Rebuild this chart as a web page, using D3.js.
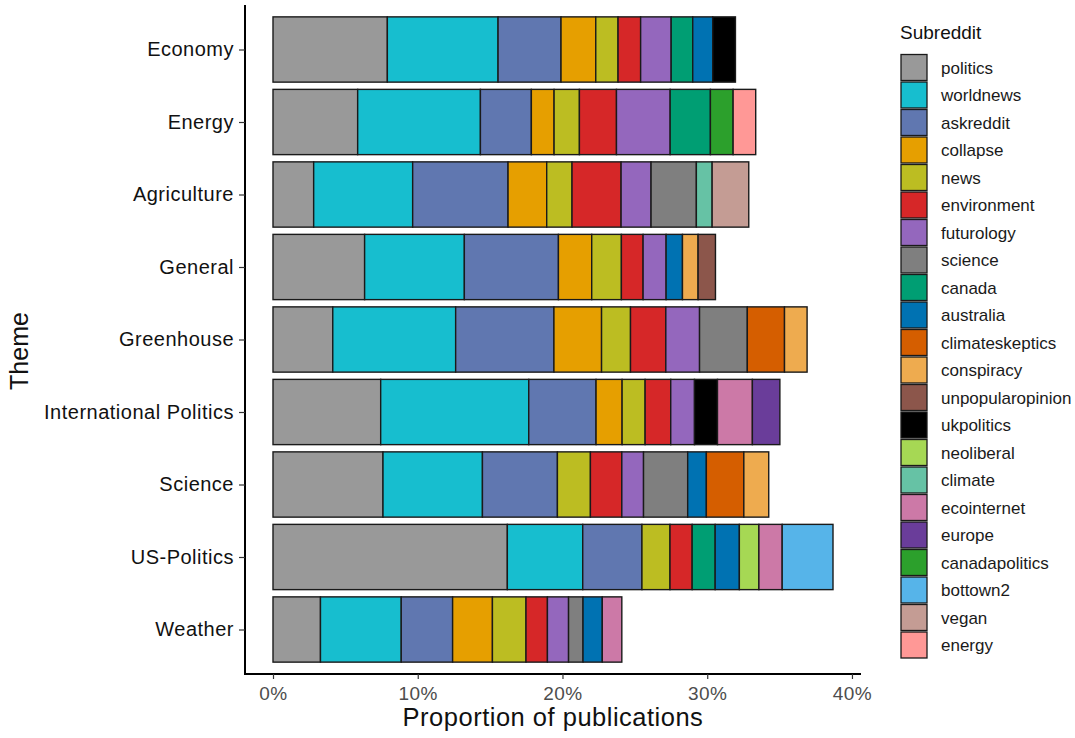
<!DOCTYPE html>
<html>
<head>
<meta charset="utf-8">
<script src="https://cdn.jsdelivr.net/npm/d3@7"></script>
<style>
  body { margin: 0; background: #fff; }
  text { font-family: "Liberation Sans", Arial, Helvetica, sans-serif; }
</style>
</head>
<body>
<svg id="chart" width="1075" height="738"></svg>
<script>
const themes = ["Economy", "Energy", "Agriculture", "General", "Greenhouse",
  "International Politics", "Science", "US-Politics", "Weather"];

const subreddits = ["politics", "worldnews", "askreddit", "collapse", "news", "environment",
  "futurology", "science", "canada", "australia", "climateskeptics", "conspiracy",
  "unpopularopinion", "ukpolitics", "neoliberal", "climate", "ecointernet", "europe",
  "canadapolitics", "bottown2", "vegan", "energy"];

const subColors = ["#999999", "#17BECF", "#6077B0", "#E69F00", "#BCBD22", "#D62728",
  "#9467BD", "#7F7F7F", "#009E73", "#0072B2", "#D55E00", "#EEAB4F",
  "#8C564B", "#000000", "#A6D854", "#66C2A5", "#CC79A7", "#6A3D9A",
  "#2CA02C", "#56B4E9", "#C49C94", "#FF9896"];

const xTicks = [0, 10, 20, 30, 40];

// proportion of publications (%) per theme, by subreddit
const economy = [["politics", 7.90], ["worldnews", 7.65], ["askreddit", 4.35], ["collapse", 2.40],
  ["news", 1.54], ["environment", 1.56], ["futurology", 2.11], ["canada", 1.49],
  ["australia", 1.38], ["ukpolitics", 1.57]];
const energy = [["politics", 5.85], ["worldnews", 8.48], ["askreddit", 3.52], ["collapse", 1.57],
  ["news", 1.75], ["environment", 2.56], ["futurology", 3.71], ["canada", 2.78],
  ["canadapolitics", 1.57], ["energy", 1.56]];
const agriculture = [["politics", 2.81], ["worldnews", 6.84], ["askreddit", 6.59], ["collapse", 2.67],
  ["news", 1.75], ["environment", 3.39], ["futurology", 2.07], ["science", 3.13],
  ["climate", 1.09], ["vegan", 2.53]];
const general = [["politics", 6.33], ["worldnews", 6.89], ["askreddit", 6.50], ["collapse", 2.30],
  ["news", 2.05], ["environment", 1.50], ["futurology", 1.59], ["australia", 1.13],
  ["conspiracy", 1.08], ["unpopularopinion", 1.20]];
const greenhouse = [["politics", 4.13], ["worldnews", 8.49], ["askreddit", 6.79], ["collapse", 3.29],
  ["news", 2.00], ["environment", 2.44], ["futurology", 2.33], ["science", 3.30],
  ["climateskeptics", 2.57], ["conspiracy", 1.56]];
const internationalPolitics = [["politics", 7.44], ["worldnews", 10.23], ["askreddit", 4.65],
  ["collapse", 1.80], ["news", 1.59], ["environment", 1.77], ["futurology", 1.64],
  ["ukpolitics", 1.59], ["ecointernet", 2.41], ["europe", 1.90]];
const science = [["politics", 7.60], ["worldnews", 6.87], ["askreddit", 5.18], ["news", 2.28],
  ["environment", 2.17], ["futurology", 1.50], ["science", 3.05], ["australia", 1.29],
  ["climateskeptics", 2.59], ["conspiracy", 1.72]];
const usPolitics = [["politics", 16.19], ["worldnews", 5.21], ["askreddit", 4.09], ["news", 1.94],
  ["environment", 1.53], ["canada", 1.59], ["australia", 1.67], ["neoliberal", 1.35],
  ["ecointernet", 1.61], ["bottown2", 3.51]];
const weather = [["politics", 3.28], ["worldnews", 5.58], ["askreddit", 3.55], ["collapse", 2.75],
  ["news", 2.32], ["environment", 1.48], ["futurology", 1.46], ["science", 1.00],
  ["australia", 1.33], ["ecointernet", 1.35]];

const themeData = [economy, energy, agriculture, general, greenhouse,
  internationalPolitics, science, usPolitics, weather];

// ---- build stacked segments ----
const segments = [];
const totals = [];
themes.forEach((t, i) => {
  const rows = themeData[i].slice().sort((a, b) => subreddits.indexOf(a[0]) - subreddits.indexOf(b[0]));
  let acc = 0;
  rows.forEach(([sub, v]) => {
    segments.push({ theme: t, sub, x0: acc, x1: acc + v });
    acc += v;
  });
  totals.push(acc);
});
const maxTotal = d3.max(totals);

const svg = d3.select("#chart");
const panel = { left: 245, right: 861, top: 6, bottom: 673 };

const pad = maxTotal * 0.05;
const x = d3.scaleLinear().domain([-pad, maxTotal + pad]).range([panel.left, panel.right]);

// discrete y with ggplot-like expansion (0.6 units each side), bar width 0.9
const nT = themes.length;
const step = (panel.bottom - panel.top) / (nT - 1 + 1.2);
const yCenter = d3.scalePoint().domain(themes)
  .range([panel.top + 0.6 * step, panel.bottom - 0.6 * step]);
const barH = 0.9 * step;

const color = d3.scaleOrdinal().domain(subreddits).range(subColors);

// bars
svg.append("g").selectAll("rect").data(segments).join("rect")
  .attr("x", d => x(d.x0))
  .attr("width", d => x(d.x1) - x(d.x0))
  .attr("y", d => yCenter(d.theme) - barH / 2)
  .attr("height", barH)
  .attr("fill", d => color(d.sub))
  .attr("stroke", "#1a1a1a")
  .attr("stroke-width", 1.4);

const axisY = panel.bottom + 1;

// x axis
const xAxis = d3.axisBottom(x).tickValues(xTicks).tickFormat(d => d + "%").tickSize(5).tickSizeOuter(0);
const gx = svg.append("g").attr("transform", `translate(0,${axisY})`).call(xAxis);
gx.select(".domain").attr("d", `M${panel.left - 1},0H${panel.right}`).attr("stroke", "#000").attr("stroke-width", 2);
gx.selectAll(".tick line").attr("stroke", "#333").attr("stroke-width", 1.2);
gx.selectAll(".tick text").attr("fill", "#4D4D4D").attr("font-size", 19).attr("y", 13)
  .attr("letter-spacing", "0.5px")
  .attr("font-family", "Liberation Sans, Arial, sans-serif");

// y axis
const yAxis = d3.axisLeft(yCenter).tickSize(6).tickSizeOuter(0).tickPadding(5);
const gy = svg.append("g").attr("transform", `translate(${panel.left},0)`).call(yAxis);
gy.select(".domain").attr("d", `M0,${panel.top - 1}V${axisY}`).attr("stroke", "#000").attr("stroke-width", 2);
gy.selectAll(".tick line").attr("stroke", "#333").attr("stroke-width", 1.2);
gy.selectAll(".tick text").attr("fill", "#111").attr("font-size", 20)
  .attr("letter-spacing", "0.5px")
  .attr("font-family", "Liberation Sans, Arial, sans-serif");

// axis titles
svg.append("text").attr("x", (panel.left + panel.right) / 2).attr("y", 726)
  .attr("text-anchor", "middle").attr("font-size", 25.5).attr("letter-spacing", "0.5px").attr("fill", "#111")
  .text("Proportion of publications");
svg.append("text").attr("transform", `translate(27.5,351) rotate(-90)`)
  .attr("text-anchor", "middle").attr("font-size", 25).attr("fill", "#111")
  .text("Theme");

// legend
const lg = svg.append("g").attr("transform", "translate(900,0)");
lg.append("text").attr("x", 0).attr("y", 38.5).attr("font-size", 19).attr("fill", "#111").text("Subreddit");
const keyStep = 27.5, keyTop = 54;
const items = lg.selectAll("g.item").data(subreddits).join("g")
  .attr("transform", (d, i) => `translate(0,${keyTop + i * keyStep})`);
items.append("rect").attr("x", 1).attr("y", 0.5).attr("width", 26).attr("height", 26)
  .attr("fill", d => color(d)).attr("stroke", "#1a1a1a").attr("stroke-width", 1.3);
items.append("text").attr("x", 41).attr("y", 13.5).attr("dy", "0.36em")
  .attr("font-size", 17).attr("fill", "#1a1a1a").text(d => d);
</script>
</body>
</html>
